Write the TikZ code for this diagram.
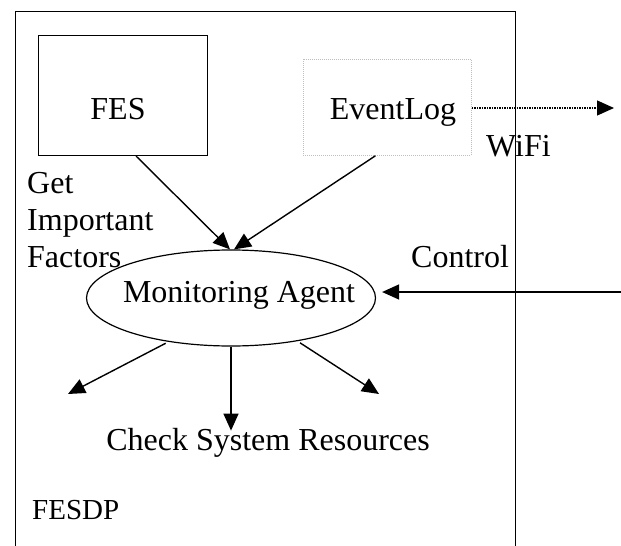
\documentclass[tikz,border=0pt]{standalone}
\usepackage{fontspec}
\setmainfont{Liberation Serif}
\usetikzlibrary{arrows.meta,shapes.geometric}
\begin{document}
\begin{tikzpicture}[x=1pt,y=-1pt,
  txt/.style={inner sep=0pt, font=\fontsize{32}{38}\selectfont},
  arr/.style={line width=1.4pt, -{Triangle[length=17pt,width=15pt]}},
  dotarr/.style={line width=1.3pt, dash pattern=on 1.2pt off 1.3pt, -{Triangle[length=17pt,width=15pt]}},
  frame/.style={line width=1pt},
  box/.style={draw, line width=1pt, inner sep=0pt, anchor=north west},
  faintbox/.style={draw=black!25, line width=0.8pt, dash pattern=on 1pt off 1pt, inner sep=0pt, anchor=north west},
  ]
\useasboundingbox (0,0) rectangle (621,546);
% outer frame (open at the bottom)
\draw[frame] (15,550) -- (15,11) -- (515,11) -- (515,550);
% boxes
\node[box, minimum width=169pt, minimum height=120pt] (fes) at (38,35) {};
\node[txt, anchor=base] (fesl) at (118,119) {FES};
\node[faintbox, minimum width=168pt, minimum height=96pt] (ev) at (303,59) {};
\node[txt, anchor=base] (evl) at (393,119) {EventLog};
% labels
\node[txt, anchor=base west] (wifi) at (486,156) {WiFi};
\node[txt, anchor=base west] (get) at (27,193) {Get};
\node[txt, anchor=base west] (imp) at (27,230) {Important};
\node[txt, anchor=base west] (fac) at (27,267) {Factors};
\node[txt, anchor=base west] (ctl) at (411,267) {Control};
% ellipse
\node[draw, ellipse, line width=1.2pt, minimum width=289pt, minimum height=96pt, inner sep=0pt] (ma) at (231,298) {};
\node[txt, anchor=base] (mal) at (239,302) {Monitoring Agent};
\node[txt, anchor=base] (csr) at (268,450) {Check System Resources};
\node[txt, anchor=base west, font=\fontsize{29}{35}\selectfont] (fesdp) at (32,519) {FESDP};
% coordinates
\coordinate (wout) at (614,108);
\coordinate (cin) at (622,292);
\coordinate (bl) at (68,394);
\coordinate (br) at (379,394);
% connectors
\draw[arr] ([xshift=13pt]fes.south) -- ([xshift=-1pt]ma.north);
\draw[arr] ([xshift=-12pt]ev.south) -- ([xshift=3pt]ma.north);
\draw[dotarr] (ev.east |- wout) -- (wout);
\draw[arr, shorten >=6pt] (cin) -- (ma.east |- cin);
\draw[arr, shorten <=3pt] (ma.215) -- (bl);
\draw[arr, shorten <=3pt] (ma.-33) -- (br);
\draw[arr] (ma.south) -- ([yshift=-3pt]ma.south |- csr.north);
\end{tikzpicture}
\end{document}
